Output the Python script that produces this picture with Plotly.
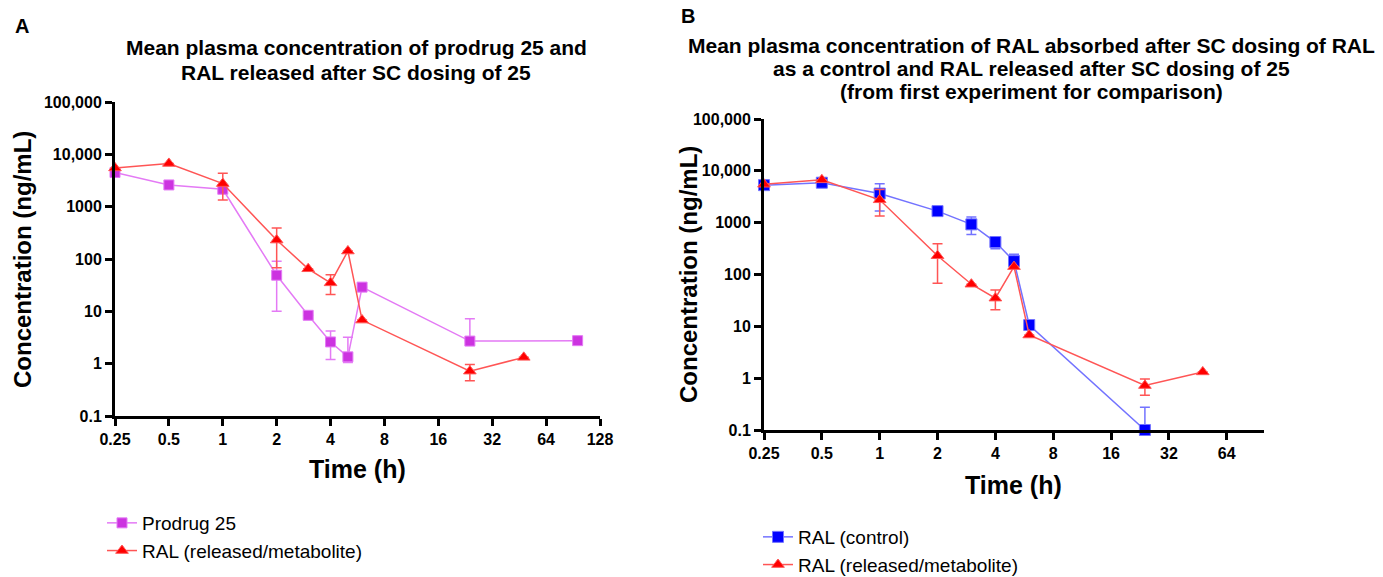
import plotly.graph_objects as go

# ---------------- data ----------------
# Panel A
t_prodrug = [0.25, 0.5, 1, 2, 3, 4, 5, 6, 24, 96]
c_prodrug = [4500, 2600, 2150, 49, 8.4, 2.6, 1.35, 29, 2.7, 2.75]
e_prodrug_up = [0, 0, 0, 42, 0, 1.6, 1.85, 0, 4.5, 0]
e_prodrug_dn = [0, 0, 0, 39, 0, 1.4, 0.3, 0, 0, 0]

t_ral_rel = [0.25, 0.5, 1, 2, 3, 4, 5, 6, 24, 48]
c_ral_rel = [5500, 6700, 2760, 230, 65, 35, 142, 6.8, 0.72, 1.32]
e_ral_rel_up = [0, 0, 1600, 160, 0, 15, 0, 0, 0.24, 0]
e_ral_rel_dn = [0, 0, 1420, 162, 0, 14, 0, 0, 0.25, 0]

# Panel B
t_ral_ctrl = [0.25, 0.5, 1, 2, 3, 4, 5, 6, 24]
c_ral_ctrl = [5300, 5900, 3640, 1670, 927, 423, 181, 10.6, 0.1]
e_ral_ctrl_up = [700, 600, 2010, 0, 363, 90, 64, 0, 0.175]
e_ral_ctrl_dn = [700, 600, 1970, 0, 333, 108, 40, 0, 0]

x_ticks_a = [0.25, 0.5, 1, 2, 4, 8, 16, 32, 64, 128]
x_ticks_b = [0.25, 0.5, 1, 2, 4, 8, 16, 32, 64]
y_ticks = [0.1, 1, 10, 100, 1000, 10000, 100000]
y_ticktext = ["0.1", "1", "10", "100", "1000", "10,000", "100,000"]

W, H = 1383, 577
FONT = "Liberation Sans, Arial, sans-serif"

MAG_M, MAG_L = "#CC33E0", "#E47AF5"
RED_M, RED_L = "#FF0000", "#FF5555"
BLU_M, BLU_L = "#0000FF", "#7373FF"


def series(x, y, up, dn, name, mcol, lcol, symbol, xa, ya, legend, msize):
    return go.Scatter(
        x=x, y=y, name=name, mode="lines+markers",
        xaxis=xa, yaxis=ya, legend=legend, cliponaxis=False,
        line=dict(color=lcol, width=1.5),
        marker=dict(symbol=symbol, size=msize, color=mcol,
                    line=dict(color=lcol, width=1)),
        error_y=dict(type="data", symmetric=False, array=up, arrayminus=dn,
                     color=lcol, thickness=1.5, width=5),
    )


fig = go.Figure()
fig.add_trace(series(t_prodrug, c_prodrug, e_prodrug_up, e_prodrug_dn,
                     "Prodrug 25", MAG_M, MAG_L, "square", "x", "y", "legend", 10))
fig.add_trace(series(t_ral_rel, c_ral_rel, e_ral_rel_up, e_ral_rel_dn,
                     "RAL (released/metabolite)", RED_M, RED_L, "triangle-up",
                     "x", "y", "legend", 11))
fig.add_trace(series(t_ral_ctrl, c_ral_ctrl, e_ral_ctrl_up, e_ral_ctrl_dn,
                     "RAL (control)", BLU_M, BLU_L, "square", "x2", "y2", "legend2", 11))
fig.add_trace(series(t_ral_rel, c_ral_rel, e_ral_rel_up, e_ral_rel_dn,
                     "RAL (released/metabolite)", RED_M, RED_L, "triangle-up",
                     "x2", "y2", "legend2", 11))

axis_common = dict(
    type="log", showline=True, linecolor="black", linewidth=3,
    ticks="outside", ticklen=7, tickwidth=3, tickcolor="black",
    showgrid=False, zeroline=False, automargin=False,
    tickfont=dict(family=FONT, size=16, color="black", weight="bold"),
)

fig.update_layout(
    width=W, height=H,
    margin=dict(l=0, r=0, t=0, b=0, autoexpand=False),
    paper_bgcolor="white", plot_bgcolor="white",
    font=dict(family=FONT, color="black"),
    xaxis=dict(axis_common, domain=[115 / W, 600 / W], anchor="y",
               range=[-0.60206, 2.10721], tickvals=x_ticks_a,
               ticktext=[str(v) for v in x_ticks_a]),
    yaxis=dict(axis_common, domain=[1 - 416 / H, 1 - 102 / H], anchor="x",
               range=[-1, 5], tickvals=y_ticks, ticktext=y_ticktext),
    xaxis2=dict(axis_common, domain=[764 / W, 1264 / W], anchor="y2",
                range=[-0.60206, 2.0], tickvals=x_ticks_b,
                ticktext=[str(v) for v in x_ticks_b]),
    yaxis2=dict(axis_common, domain=[1 - 430 / H, 1 - 119 / H], anchor="x2",
                range=[-1, 5], tickvals=y_ticks, ticktext=y_ticktext),
    legend=dict(x=102 / W, y=1 - 504 / H, xanchor="left", yanchor="top",
                font=dict(family=FONT, size=19, color="black"),
                bgcolor="rgba(0,0,0,0)"),
    legend2=dict(x=758 / W, y=1 - 518 / H, xanchor="left", yanchor="top",
                 font=dict(family=FONT, size=19, color="black"),
                 bgcolor="rgba(0,0,0,0)"),
)

ann = []


def text(x, y, s, size, bold=True, angle=0, xanchor="center"):
    ann.append(dict(x=x / W, y=1 - y / H, xref="paper", yref="paper",
                    text=s, showarrow=False, textangle=angle,
                    xanchor=xanchor, yanchor="middle",
                    font=dict(family=FONT, size=size, color="black",
                              weight="bold" if bold else "normal")))


text(22, 26, "A", 20)
text(688, 16, "B", 20)
text(356, 48, "Mean plasma concentration of prodrug 25 and", 21)
text(356, 72, "RAL released after SC dosing of 25", 21)
text(1031, 45, "Mean plasma concentration of RAL absorbed after SC dosing of RAL", 21)
text(1031, 68, "as a control and RAL released after SC dosing of 25", 21)
text(1031, 92, "(from first experiment for comparison)", 21)
text(22, 260, "Concentration (ng/mL)", 24, angle=-90)
text(688, 275, "Concentration (ng/mL)", 24, angle=-90)
text(357, 469, "Time (h)", 25)
text(1013, 485, "Time (h)", 25)

fig.update_layout(annotations=ann)
fig.write_html("out.html")
